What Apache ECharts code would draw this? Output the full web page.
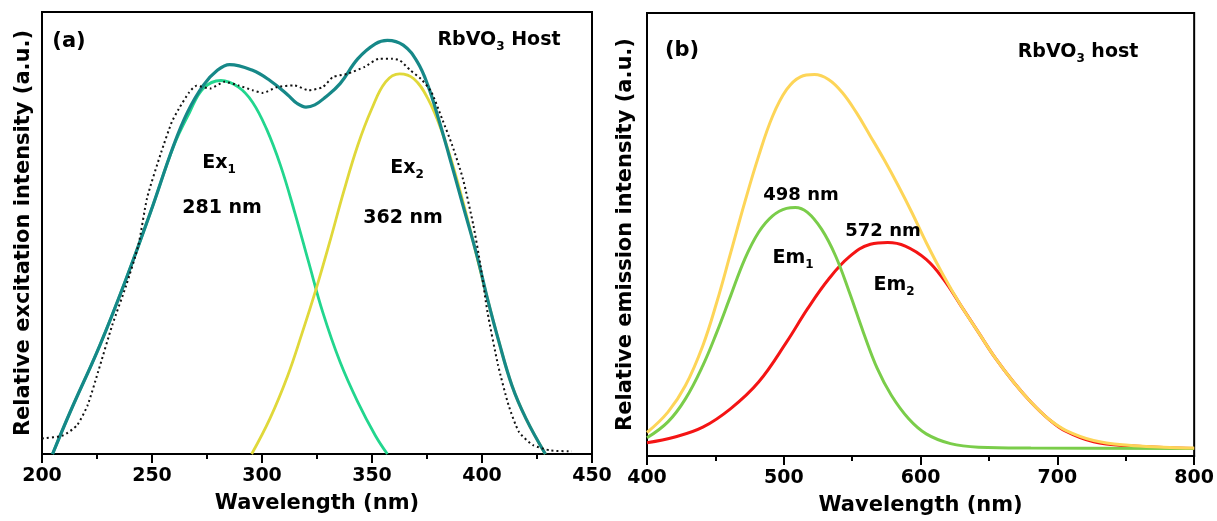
<!DOCTYPE html>
<html><head><meta charset="utf-8">
<script src="https://cdn.jsdelivr.net/npm/echarts@6/dist/echarts.min.js"></script>
<style>html,body{margin:0;padding:0;background:#fff}#c{width:1217px;height:521px}</style>
</head><body><div id="c"></div>
<script>
// ---------- Panel (a): excitation ----------
const excXTicks = [200, 250, 300, 350, 400, 450];
const excRaw = [[200,3.5],[209.6,4.2],[215.9,6.5],[220.7,11.0],[225.5,18.6],[231.9,29.1],[238.3,38.2],[243.8,47.2],[247.8,58.0],[254.2,68.3],[259.0,75.1],[262.2,78.1],[267.0,81.9],[270.2,83.3],[276.5,82.7],[282.9,84.2],[289.3,83.4],[295.7,82.3],[300.4,81.7],[306.8,83.0],[314.8,83.4],[321.2,82.3],[327.6,83.0],[332.3,85.3],[338.7,86.0],[346.7,87.6],[353.1,89.4],[359.4,89.4],[362.6,89.1],[367.4,86.8],[372.2,84.9],[377.0,81.9],[381.8,75.9],[386.5,69.8],[391.3,62.3],[396.1,51.7],[399.3,42.7],[402.5,32.1],[407.3,20.1],[412.1,11.0],[416.8,5.0],[423.2,2.0],[431.2,0.8],[440.8,0.6]];
const excSum = [[204.8,0],[212.8,9.5],[226.3,24.6],[238.3,39.7],[249.4,54.8],[259.8,69.8],[266.2,77.4],[273.3,83.4],[279.7,86.8],[285.3,88.1],[295.7,86.8],[303.6,84.5],[311.6,81.3],[316.0,79.3],[320.0,78.5],[324.0,79.0],[328.5,80.6],[335.5,83.8],[343.5,89.4],[351.5,92.8],[357.0,93.6],[364.2,92.5],[370.6,88.7],[375.4,83.4],[380.2,75.9],[385.0,67.6],[391.3,56.3],[397.7,44.9],[402.5,35.1],[407.3,26.1],[413.6,15.5],[420.0,8.0],[428.8,0]];
const ex1 = [[204.8,0],[212.8,9.5],[226.3,24.6],[238.3,39.7],[249.4,54.8],[259.8,69.6],[267.0,77.2],[273.3,82.7],[281.3,84.5],[289.3,83.0],[295.7,79.6],[302.0,73.6],[308.4,65.3],[314.8,54.8],[321.2,43.4],[327.6,32.1],[335.5,20.8],[343.5,11.8],[351.5,4.2],[357.0,0]];
const ex2 = [[295.3,0],[303.6,8.0],[311.6,17.6],[318.0,27.0],[324.4,37.0],[330.7,47.8],[337.1,59.3],[343.5,69.8],[349.9,78.1],[356.2,84.2],[362.6,86.0],[369.0,84.9],[375.4,80.4],[381.8,72.9],[388.1,63.0],[394.5,51.0],[400.9,38.2],[407.3,26.1],[413.6,15.5],[420.0,8.0],[428.8,0]];

// ---------- Panel (b): emission ----------
const emXTicks = [400, 500, 600, 700, 800];
const emTotal = [[400,5.3],[415.3,9.9],[428.1,15.9],[440.8,24.9],[451.0,34.7],[461.2,45.9],[471.4,57.2],[481.6,67.7],[491.8,76.7],[502.0,82.7],[512.2,85.6],[522.4,86.1],[532.7,85.0],[542.9,82.0],[553.1,77.5],[563.3,72.2],[573.5,66.8],[583.7,61.0],[593.9,54.8],[604.1,48.2],[616.8,40.7],[629.6,33.9],[642.3,27.9],[655.1,21.9],[667.9,16.7],[680.6,12.2],[693.4,8.4],[706.1,5.8],[726.5,3.5],[752.0,2.4],[777.6,2.0],[800,1.8]];
const em1 = [[400,4.1],[415.3,7.7],[428.1,12.9],[440.8,20.4],[451.0,27.9],[461.2,36.2],[471.4,44.4],[481.6,50.5],[491.8,54.2],[502.0,55.9],[508.4,56.1],[517.3,55.0],[527.6,51.2],[537.8,45.2],[548.0,36.9],[558.2,27.9],[568.4,19.7],[578.6,13.7],[591.3,8.4],[604.1,5.0],[621.9,2.8],[642.3,2.0],[680.6,1.8],[800,1.7]];
const em2 = [[400,3.0],[420.4,4.3],[440.8,6.5],[461.2,10.7],[481.6,16.7],[502.0,25.7],[517.3,33.2],[532.7,39.9],[548.0,45.0],[563.3,47.8],[576.0,48.2],[588.8,47.4],[604.1,44.4],[616.8,39.9],[629.6,33.9],[642.3,27.9],[655.1,21.9],[667.9,16.7],[680.6,12.2],[693.4,8.4],[706.1,5.6],[726.5,3.2],[752.0,2.3],[800,1.7]];

const FF = 'DejaVu Sans';
const labelFont = {fontFamily: FF, fontWeight: 'bold', fontSize: 19, color: '#000', margin: 13};
const nameFont = {fontFamily: FF, fontWeight: 'bold', fontSize: 21, color: '#000'};

function xAxis(idx, min, max, interval) {
  return {
    type: 'value', gridIndex: idx, min: min, max: max, interval: interval,
    name: 'Wavelength (nm)', nameLocation: 'middle', nameGap: 39, nameTextStyle: nameFont,
    axisLine: {show: true, onZero: false, lineStyle: {color: '#000', width: 2}},
    axisTick: {show: true, inside: false, length: 9, lineStyle: {color: '#000', width: 2}},
    minorTick: {show: true, splitNumber: 2, length: 5, lineStyle: {color: '#000', width: 2}},
    axisLabel: labelFont, splitLine: {show: false}
  };
}
function yAxis(idx, name, gap) {
  return {
    type: 'value', gridIndex: idx, min: 0, max: 100,
    name: name, nameLocation: 'middle', nameGap: gap, nameRotate: 90, nameTextStyle: nameFont,
    axisLine: {show: false}, axisTick: {show: false}, axisLabel: {show: false}, splitLine: {show: false}
  };
}
function line(name, data, color, width, xi, extra) {
  return Object.assign({
    type: 'line', name: name, data: data, xAxisIndex: xi, yAxisIndex: xi,
    showSymbol: false, smooth: 0.4, clip: true,
    lineStyle: {color: color, width: width}, itemStyle: {color: color}, z: 2
  }, extra || {});
}
function txt(x, y, text, size) {
  return {type: 'text', x: x, y: y, z: 10, style: {text: text, fill: '#000', font: 'bold ' + size + 'px "DejaVu Sans"', align: 'center', verticalAlign: 'middle'}};
}
function subTxt(x, y, main, sub, size, tail) {
  return {type: 'text', x: x, y: y, z: 10, style: {
    text: '{m|' + main + '}{s|' + sub + '}' + (tail ? '{m|' + tail + '}' : ''), fill: '#000', align: 'center', verticalAlign: 'middle',
    rich: {
      m: {fontFamily: FF, fontWeight: 'bold', fontSize: size, lineHeight: 26, verticalAlign: 'middle'},
      s: {fontFamily: FF, fontWeight: 'bold', fontSize: 12, verticalAlign: 'bottom'}
    }}};
}

const chart = echarts.init(document.getElementById('c'), null, {renderer: 'canvas'});
chart.setOption({
  animation: false,
  backgroundColor: '#fff',
  grid: [
    {left: 42, right: 625, top: 12, bottom: 67, show: true, borderColor: '#000', borderWidth: 2, backgroundColor: 'transparent'},
    {left: 647, right: 20, top: 13, bottom: 64, show: true, borderColor: '#000', borderWidth: 2, backgroundColor: 'transparent'}
  ],
  xAxis: [xAxis(0, excXTicks[0], excXTicks[excXTicks.length - 1], 50), xAxis(1, emXTicks[0], emXTicks[emXTicks.length - 1], 100)],
  yAxis: [yAxis(0, 'Relative excitation intensity (a.u.)', 8), yAxis(1, 'Relative emission intensity (a.u.)', 11)],
  series: [
    line('Ex1', ex1, '#22d68e', 2.8, 0),
    line('Ex2', ex2, '#e0d83a', 2.8, 0),
    line('Fit', excSum, '#168888', 3.2, 0, {z: 3}),
    line('Raw', excRaw, '#111', 2, 0, {smooth: 0.2, z: 4, lineStyle: {color: '#111', width: 2, type: [2, 3]}}),
    line('Em2', em2, '#f41414', 3, 1),
    line('Em1', em1, '#7acd4a', 3, 1),
    line('Total', emTotal, '#fdd558', 3, 1, {z: 3})
  ],
  graphic: [
    txt(69, 42, '(a)', 21),
    subTxt(499, 40, 'RbVO', '3', 19, ' Host'),
    subTxt(219, 163, 'Ex', '1', 19),
    txt(222, 208, '281 nm', 19),
    subTxt(407, 168, 'Ex', '2', 19),
    txt(403, 218, '362 nm', 19),
    txt(682, 51, '(b)', 21),
    subTxt(1078, 52, 'RbVO', '3', 19, ' host'),
    txt(801, 195, '498 nm', 18),
    txt(883, 231, '572 nm', 18),
    subTxt(793, 258, 'Em', '1', 19),
    subTxt(894, 285, 'Em', '2', 19)
  ]
});
</script></body></html>
